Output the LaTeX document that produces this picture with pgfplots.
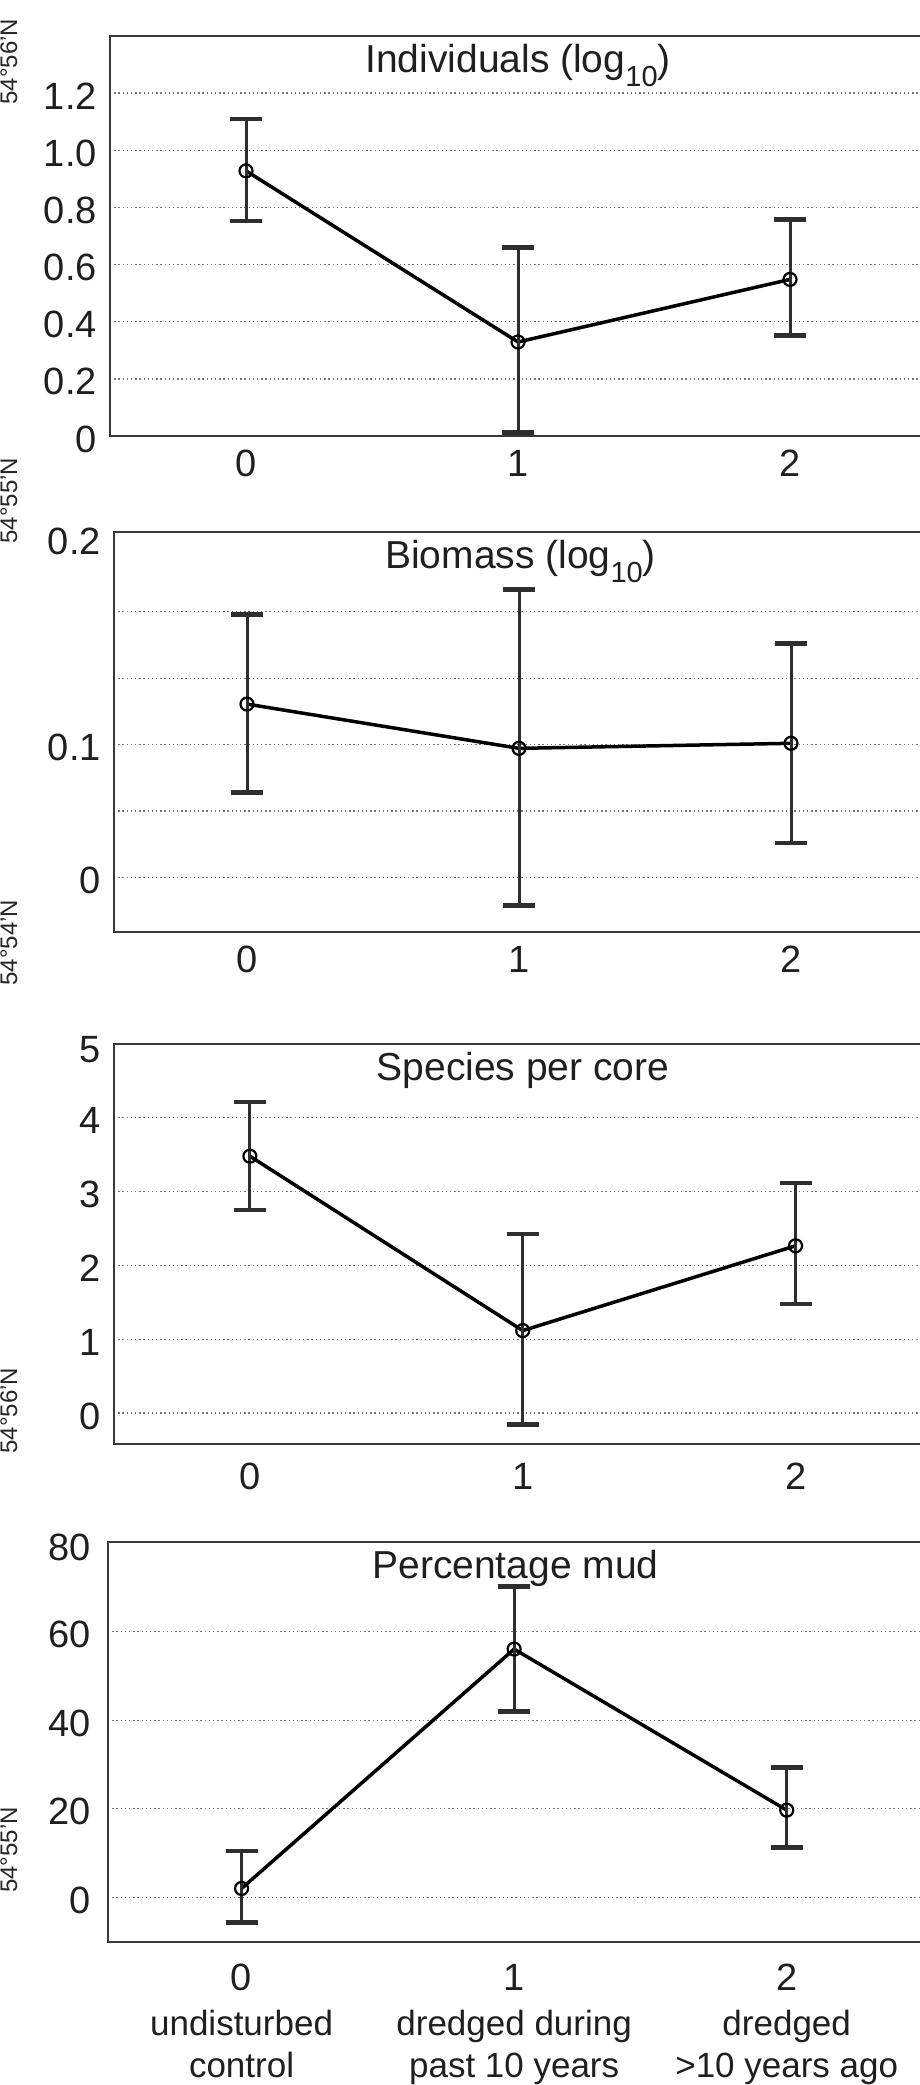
\documentclass[border=0pt]{standalone}
\usepackage{fontspec}
\setmainfont{Liberation Sans}
\usepackage{pgfplots}
\pgfplotsset{compat=1.18}
\usepackage{pgfplotstable}

\pgfplotstableread{
x y ep em
0 0.928 0.182 0.176
1 0.329 0.330 0.317
2 0.548 0.210 0.197
}\dataA
\pgfplotstableread{
x y ep em
0 0.1305 0.0675 0.0665
1 0.0972 0.1194 0.1181
2 0.1010 0.0750 0.0750
}\dataB
\pgfplotstableread{
x y ep em
0 3.48 0.735 0.730
1 1.117 1.308 1.271
2 2.266 0.849 0.786
}\dataC
\pgfplotstableread{
x y ep em
0 2.0 8.5 7.7
1 56.1 14.1 14.1
2 19.7 9.6 8.4
}\dataD

\pgfplotsset{
  panel/.style={
    scale only axis, height=400pt, anchor=north west,
    xmax=2.5, xtick={0,1,2}, xticklabels={0,1,2},
    major tick length=0pt, minor tick length=0pt,
    axis line style={line width=2.4pt, black!78},
    ymajorgrids,
    grid style={dash pattern=on 1.3pt off 2.9pt, line width=1.3pt, black!55},
    tick label style={font=\fontsize{38}{44}\selectfont, text=black!88},
    yticklabel style={anchor=east, inner sep=0pt, xshift=-13pt, yshift=-3pt},
    xticklabel style={anchor=north, inner sep=0pt, yshift=-14pt},
    title style={at={(0.5,1)}, anchor=north, yshift=-14pt, inner sep=0pt,
      font=\fontsize{39}{44}\selectfont, text=black!88},
    extra y tick style={grid=none},
    clip=false,
  },
  meanline/.style={black, line width=3.5pt, mark=o, mark size=6.5pt,
    mark options={line width=2.2pt, solid, black},
    error bars/.cd, y dir=both, y explicit, error mark=|,
    error bar style={line width=3pt, color=black!82},
    error mark options={line width=4.5pt, mark size=16pt, color=black!82}},
}

\begin{document}
\begin{tikzpicture}
% panel 1
\begin{axis}[panel, at={(110pt,-36pt)}, width=816pt, xmin=-0.5,
  ymin=0, ymax=1.4,
  ytick={0,0.2,0.4,0.6,0.8,1.0,1.2},
  yticklabels={0,0.2,0.4,0.6,0.8,1.0,1.2},
  title={Individuals (log\raisebox{-14pt}{\fontsize{29}{30}\selectfont 10})}]
\addplot[meanline] table[x=x, y=y, y error plus=ep, y error minus=em]{\dataA};
\end{axis}
% panel 2
\begin{axis}[panel, at={(114pt,-532pt)}, width=813pt, xmin=-0.489,
  ymin=-0.041, ymax=0.26,
  ytick={0,0.05,0.1,0.15,0.2},
  yticklabels={0,,0.1,,},
  extra y ticks={0.255}, extra y tick labels={0.2},
  title={Biomass (log\raisebox{-14pt}{\fontsize{29}{30}\selectfont 10})}]
\addplot[meanline] table[x=x, y=y, y error plus=ep, y error minus=em]{\dataB};
\end{axis}
% panel 3
\begin{axis}[panel, at={(114pt,-1044pt)}, width=818pt, xmin=-0.498,
  ymin=-0.42, ymax=5,
  ytick={0,1,2,3,4}, yticklabels={0,1,2,3,4},
  extra y ticks={4.97}, extra y tick labels={5},
  xticklabel style={yshift=-5pt},
  title={Species per core}]
\addplot[meanline] table[x=x, y=y, y error plus=ep, y error minus=em]{\dataC};
\end{axis}
% panel 4
\begin{axis}[panel, at={(108pt,-1542pt)}, width=815pt, xmin=-0.49,
  ymin=-10.1, ymax=80.3,
  ytick={0,20,40,60}, yticklabels={0,20,40,60},
  extra y ticks={79.8}, extra y tick labels={80},
  yticklabel style={xshift=-4pt},
  xticklabel style={yshift=-8pt},
  title={Percentage mud}]
\addplot[meanline] table[x=x, y=y, y error plus=ep, y error minus=em]{\dataD};
\node[anchor=north, yshift=-68pt, align=center, inner sep=0pt,
  font=\fontsize{35}{41.5}\selectfont, text=black!88] at (axis cs:0,-10.1) {undisturbed\\control};
\node[anchor=north, yshift=-68pt, align=center, inner sep=0pt,
  font=\fontsize{35}{41.5}\selectfont, text=black!88] at (axis cs:1,-10.1) {dredged during\\past 10 years};
\node[anchor=north, yshift=-68pt, align=center, inner sep=0pt,
  font=\fontsize{35}{41.5}\selectfont, text=black!88] at (axis cs:2,-10.1) {dredged\\>10 years ago};
\end{axis}
% map coordinate labels at left edge
\foreach \yy/\txt in {61.8/54°56'N, 500.6/54°55'N, 942.6/54°54'N, 1410.6/54°56'N, 1850/54°55'N}{
  \node[rotate=90, anchor=base, inner sep=0pt, font=\fontsize{24}{26}\selectfont, text=black!85]
    at (17pt,-\yy pt) {\txt};
}
\pgfresetboundingbox
\path[use as bounding box] (0pt,0pt) rectangle (920pt,-2085pt);
\end{tikzpicture}
\end{document}
